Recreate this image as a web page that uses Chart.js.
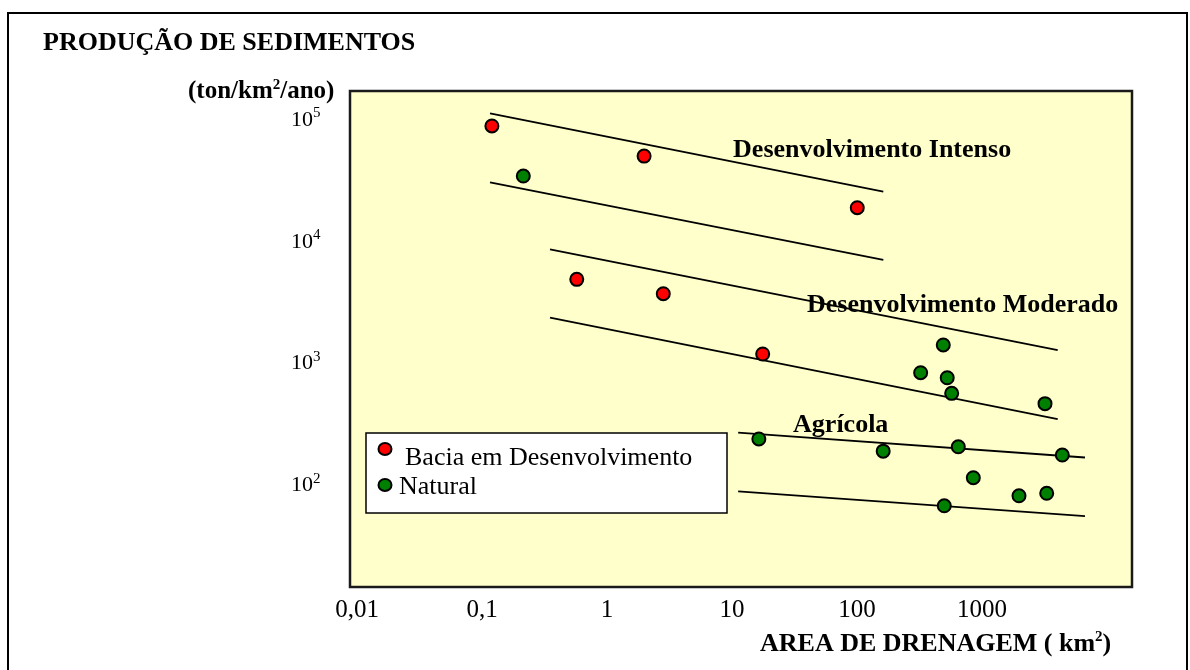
<!DOCTYPE html>
<html><head><meta charset="utf-8">
<script src="https://cdn.jsdelivr.net/npm/chart.js@4.4.1/dist/chart.umd.min.js"></script>
<style>html,body{margin:0;padding:0;background:#fff;overflow:hidden}canvas{display:block}</style>
</head><body>
<canvas id="c" width="1190" height="670"></canvas>
<script>
// ---- data ----
const developingArea  = [0.12, 1.98, 100.5, 0.573, 2.82, 17.6];
const developingYield = [86500, 48960, 18450, 4760, 3630, 1161];
const naturalArea  = [0.214, 490, 323, 527, 572, 3192, 16.4, 162, 646, 4390, 852, 1977, 3293, 499];
const naturalYield = [33570, 1377, 815, 741, 552, 454, 233, 185, 201, 172, 112, 79.6, 83.4, 65.9];
// envelope lines (start / end)
const lineStartArea  = [0.1159, 0.1159, 0.350, 0.350, 11.2, 11.2];
const lineStartYield = [109900, 29820, 8405, 2306, 262.4, 86.6];
const lineEndArea    = [162.4, 162.4, 4033, 4033, 6668, 6668];
const lineEndYield   = [24950, 6870, 1252, 339.6, 164.1, 54.1];
// axis ticks
const xTickValues = [0.01, 0.1, 1, 10, 100, 1000];
const xTickLabels = ['0,01', '0,1', '1', '10', '100', '1000'];
const yTickValues = [100000, 10000, 1000, 100];
const yTickExponents = ['5', '4', '3', '2'];
// region labels (anchored in data space)
const regionNames = ['Desenvolvimento Intenso', 'Desenvolvimento Moderado', 'Agrícola'];
const regionArea  = [10.2, 39.8, 30.8];
const regionYield = [48100, 2570, 265.8];
const seriesNames = ['Bacia em Desenvolvimento', 'Natural'];

const FONT = '"Liberation Serif","Times New Roman",serif';

function runs(ctx, x, y, parts) {
  let cx = x;
  for (const p of parts) {
    ctx.font = (p.bold ? 'bold ' : '') + p.size + 'px ' + FONT;
    ctx.fillText(p.t, cx, y - (p.rise || 0));
    cx += ctx.measureText(p.t).width;
  }
}

const deco = {
  id: 'deco',
  beforeDraw(chart) {
    const ctx = chart.ctx;
    ctx.save();
    ctx.fillStyle = '#fff';
    ctx.fillRect(0, 0, chart.width, chart.height);
    ctx.strokeStyle = '#000';
    ctx.lineWidth = 2;
    ctx.strokeRect(8, 13, 1179, 700);
    ctx.restore();
  },
  beforeDatasetsDraw(chart) {
    const {ctx, chartArea: a} = chart;
    ctx.save();
    ctx.fillStyle = '#FFFFCC';
    ctx.fillRect(a.left, a.top, a.width, a.height);
    ctx.strokeStyle = '#1a1a1a';
    ctx.lineWidth = 2.5;
    ctx.strokeRect(a.left, a.top, a.width, a.height);
    ctx.restore();
  },
  afterDraw(chart) {
    const ctx = chart.ctx;
    const xs = chart.scales.x, ys = chart.scales.y;
    ctx.save();
    ctx.fillStyle = '#000';
    ctx.textBaseline = 'alphabetic';
    // title
    ctx.textAlign = 'left';
    ctx.font = 'bold 26px ' + FONT;
    ctx.fillText('PRODUÇÃO DE SEDIMENTOS', 43, 50);
    // y unit
    runs(ctx, 188, 98, [
      {t: '(ton/km', size: 25, bold: true},
      {t: '2', size: 15, bold: true, rise: 9},
      {t: '/ano)', size: 25, bold: true}
    ]);
    // y ticks
    yTickValues.forEach((v, i) => {
      const py = ys.getPixelForValue(v);
      ctx.textAlign = 'right';
      ctx.font = '22px ' + FONT;
      ctx.fillText('10', 313, py + 7.5);
      ctx.textAlign = 'left';
      ctx.font = '15px ' + FONT;
      ctx.fillText(yTickExponents[i], 313, py - 1);
    });
    // x ticks
    ctx.textAlign = 'center';
    ctx.font = '25px ' + FONT;
    xTickValues.forEach((v, i) => {
      ctx.fillText(xTickLabels[i], xs.getPixelForValue(v), 617);
    });
    // x title
    ctx.textAlign = 'left';
    runs(ctx, 760, 651, [
      {t: 'AREA DE DRENAGEM ( km', size: 26, bold: true},
      {t: '2', size: 15, bold: true, rise: 10},
      {t: ')', size: 26, bold: true}
    ]);
    // region labels
    ctx.font = 'bold 26px ' + FONT;
    regionNames.forEach((n, i) => {
      ctx.fillText(n, xs.getPixelForValue(regionArea[i]), ys.getPixelForValue(regionYield[i]));
    });
    // legend box
    const lx = 366, ly = 433, lw = 361, lh = 80;
    ctx.fillStyle = '#fff';
    ctx.fillRect(lx, ly, lw, lh);
    ctx.strokeStyle = '#000';
    ctx.lineWidth = 1.5;
    ctx.strokeRect(lx, ly, lw, lh);
    const items = chart.data.datasets.filter(d => seriesNames.includes(d.label));
    const rows = [{my: 449, tx: 405, ty: 465}, {my: 485, tx: 399, ty: 494}];
    items.forEach((d, i) => {
      const r = rows[i];
      ctx.beginPath();
      ctx.ellipse(385, r.my, 6.5, 6, 0, 0, Math.PI * 2);
      ctx.fillStyle = d.backgroundColor;
      ctx.fill();
      ctx.lineWidth = 2;
      ctx.strokeStyle = '#000';
      ctx.stroke();
      ctx.fillStyle = '#000';
      ctx.font = '26px ' + FONT;
      ctx.textAlign = 'left';
      ctx.fillText(d.label, r.tx, r.ty);
    });
    ctx.restore();
  }
};

const datasets = [
  {
    label: seriesNames[0],
    data: developingArea.map((x, i) => ({x, y: developingYield[i]})),
    backgroundColor: '#FF0000', borderColor: '#000', borderWidth: 2,
    pointRadius: 6.5, pointHoverRadius: 6.5, order: 0
  },
  {
    label: seriesNames[1],
    data: naturalArea.map((x, i) => ({x, y: naturalYield[i]})),
    backgroundColor: '#008000', borderColor: '#000', borderWidth: 2,
    pointRadius: 6.5, pointHoverRadius: 6.5, order: 0
  }
];
lineStartArea.forEach((a, i) => {
  datasets.push({
    label: 'envelope' + i,
    data: [{x: a, y: lineStartYield[i]}, {x: lineEndArea[i], y: lineEndYield[i]}],
    showLine: true, pointRadius: 0, borderColor: '#000', borderWidth: 1.8,
    backgroundColor: '#000', order: 5
  });
});

new Chart(document.getElementById('c'), {
  type: 'scatter',
  data: {datasets},
  options: {
    responsive: false,
    animation: false,
    events: [],
    layout: {padding: {left: 350, right: 58, top: 91, bottom: 83}},
    plugins: {legend: {display: false}, tooltip: {enabled: false}},
    scales: {
      x: {type: 'logarithmic', display: false, bounds: 'data',
          min: Math.pow(10, -2.056), max: Math.pow(10, 4.2)},
      y: {type: 'logarithmic', display: false, bounds: 'data',
          min: Math.pow(10, 1.152), max: Math.pow(10, 5.2241)}
    }
  },
  plugins: [deco]
});
</script>
</body></html>
